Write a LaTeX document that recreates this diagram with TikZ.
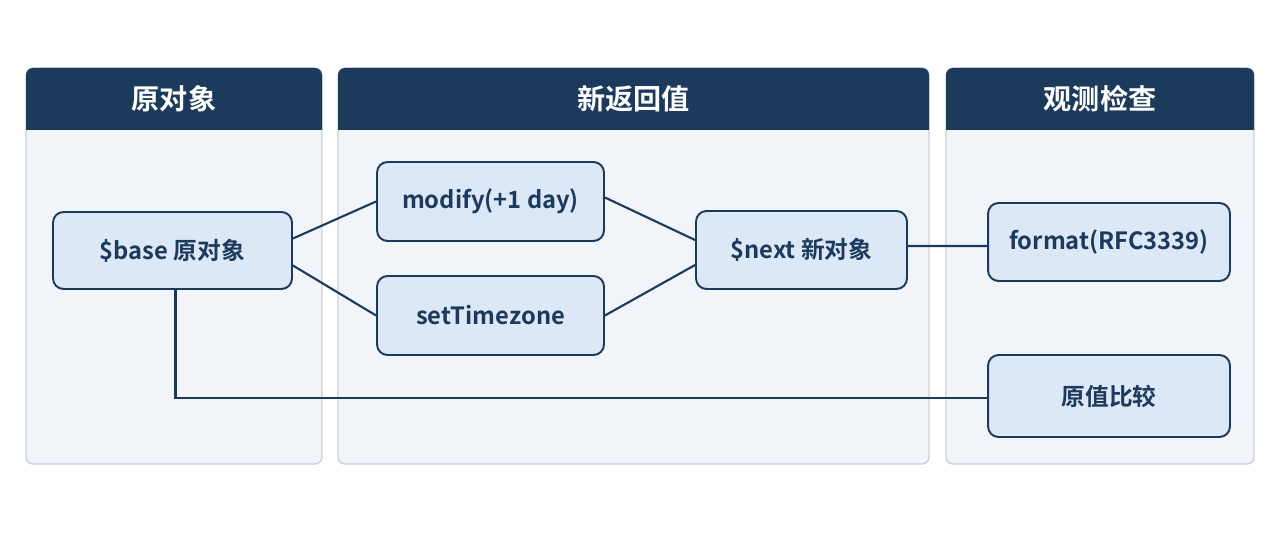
\documentclass[tikz,border=0pt]{standalone}
\usepackage{fontspec}
\setmainfont{Noto Sans CJK SC}[BoldFont={Noto Sans CJK SC Bold}]
\usetikzlibrary{positioning}
\definecolor{navy}{HTML}{1B3A5C}
\definecolor{panelbg}{HTML}{F1F4F8}
\definecolor{panelline}{HTML}{C9D1DD}
\definecolor{boxbg}{HTML}{DCE8F5}
\tikzset{
  panel/.style={draw=panelline, fill=panelbg, line width=0.8pt, rounded corners=4pt},
  head/.style={text=white, font=\bfseries\fontsize{16}{18}\selectfont},
  stage/.style={draw=navy, fill=boxbg, line width=1.1pt, rounded corners=6pt,
    font=\bfseries\fontsize{13.5}{15}\selectfont, text=navy, inner sep=0pt},
  link/.style={draw=navy, line width=1.2pt}
}
\begin{document}
\begin{tikzpicture}[x=0.02cm, y=-0.02cm]
\useasboundingbox (0,0) rectangle (1280,533);

%PANELS
\foreach \xl/\xr/\title/\nm in {26/322/原对象/p1, 338/929/新返回值/p2, 946/1254/观测检查/p3}{
  \draw[panel] (\xl,68) rectangle (\xr,464);
  \fill[navy] (\xl,130) [rounded corners=4pt] -- (\xl,68) -- (\xr,68) [sharp corners] -- (\xr,130) -- cycle;
  \node[head] (\nm) at ({(\xl+\xr)/2},99) {\title};
}

%STAGES
\node[stage, minimum width=4.78cm, minimum height=1.54cm] (base) at (172.5,250.5) {\$base 原对象};
\node[stage, minimum width=4.54cm, minimum height=1.58cm] (modify) at (490.5,201.5) {modify(+1 day)};
\node[stage, minimum width=4.54cm, minimum height=1.58cm] (tz) at (490.5,315.5) {setTimezone};
\node[stage, minimum width=4.22cm, minimum height=1.56cm] (next) at (801.5,250) {\$next 新对象};
\node[stage, minimum width=4.84cm, minimum height=1.56cm] (fmt) at (1109,242) {format(RFC3339)};
\node[stage, minimum width=4.84cm, minimum height=1.64cm] (cmp) at (1109,396) {原值比较};

%LINKS
\draw[link] ([yshift=0.24cm]base.east) -- (modify.west);
\draw[link] ([yshift=-0.3cm]base.east) -- (tz.west);
\draw[link] ([yshift=0.08cm]modify.east) -- ([yshift=0.2cm]next.west);
\draw[link] (tz.east) -- ([yshift=-0.3cm]next.west);
\draw[link] ([yshift=0.08cm]next.east) -- ([yshift=-0.08cm]fmt.west);
\draw[link] ([xshift=0.06cm]base.south) |- ([yshift=-0.04cm]cmp.west);
\end{tikzpicture}
\end{document}
